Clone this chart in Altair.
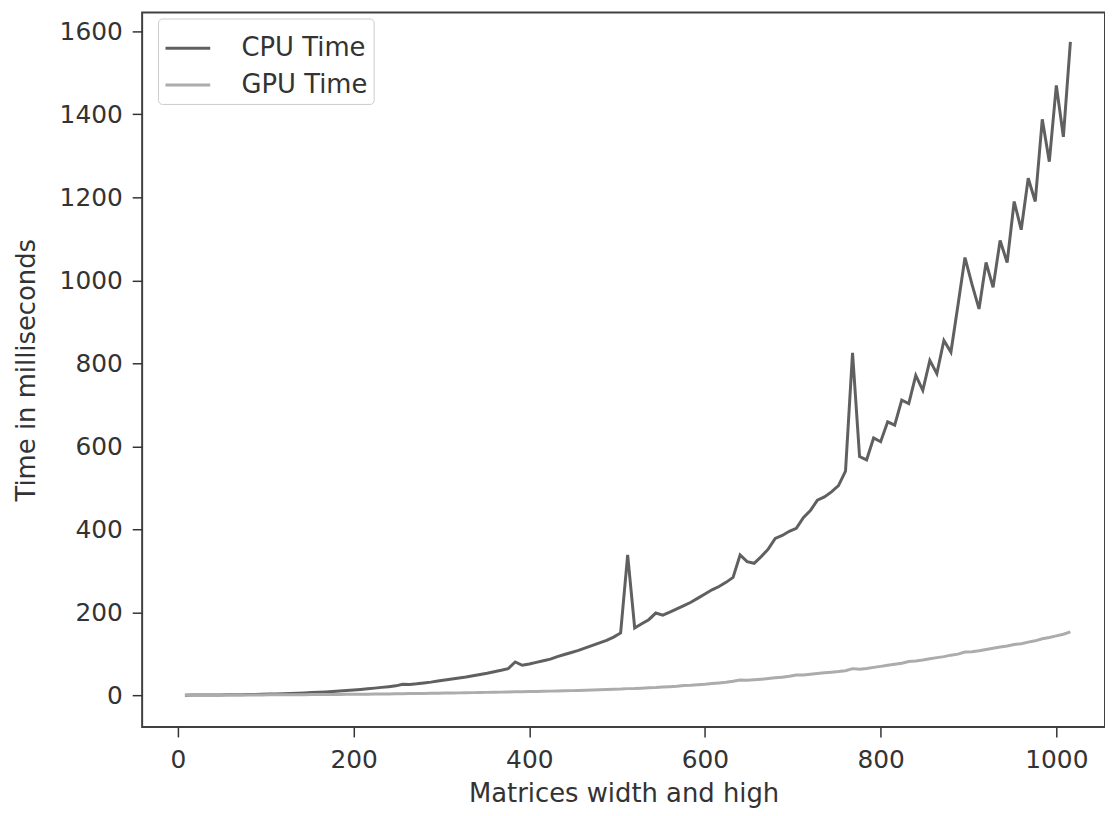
import altair as alt
import pandas as pd

sizes = list(range(8, 1017, 8))

cpu_time = [
    0.1, 0.2, 0.3, 0.4, 0.5, 0.6, 0.8, 1.0, 1.2, 1.5,
    1.8, 2.2, 2.6, 3.1, 3.6, 4.2, 4.8, 5.5, 6.3, 7.1,
    8.0, 9.0, 10.0, 11.2, 12.4, 13.8, 15.3, 17.0, 18.8, 20.6,
    22.5, 26.5, 26.0, 27.5, 29.5, 31.5, 34.0, 36.5, 39.0, 41.5,
    44.0, 47.0, 50.0, 53.0, 56.5, 60.0, 64.0, 80.0, 72.0, 75.0,
    79.0, 83.0, 87.0, 93.0, 98.0, 103.0, 108.0, 114.0, 120.0, 126.0,
    132.0, 140.0, 150.0, 338.0, 162.0, 172.0, 182.0, 198.0, 193.0, 200.0,
    208.0, 216.0, 224.0, 234.0, 244.0, 254.0, 262.0, 272.0, 284.0, 338.0,
    322.0, 318.0, 334.0, 352.0, 378.0, 385.0, 395.0, 402.0, 428.0, 445.0,
    470.0, 478.0, 490.0, 505.0, 540.0, 825.0, 575.0, 567.0, 620.0, 611.0,
    659.0, 651.0, 711.0, 703.0, 771.0, 735.0, 807.0, 775.0, 855.0, 827.0,
    940.0, 1055.0, 990.0, 931.0, 1043.0, 983.0, 1096.0, 1043.0, 1190.0, 1122.0,
    1246.0, 1190.0, 1388.0, 1286.0, 1470.0, 1346.0, 1575.0,
]

gpu_time = [
    0.3, 0.3, 0.3, 0.4, 0.4, 0.4, 0.5, 0.5, 0.6, 0.6,
    0.7, 0.7, 0.8, 0.9, 1.0, 1.1, 1.2, 1.3, 1.4, 1.5,
    1.6, 1.8, 1.9, 2.0, 2.2, 2.3, 2.5, 2.7, 2.9, 3.1,
    3.3, 3.6, 3.8, 4.0, 4.3, 4.5, 4.8, 5.0, 5.3, 5.6,
    5.9, 6.2, 6.5, 6.8, 7.1, 7.4, 7.7, 8.2, 8.4, 8.7,
    9.0, 9.4, 9.8, 10.2, 10.6, 11.0, 11.5, 12.0, 12.5, 13.0,
    13.6, 14.2, 14.8, 15.8, 16.2, 17.0, 17.8, 18.6, 19.8, 20.6,
    21.6, 23.5, 24.2, 25.4, 26.2, 28.0, 29.5, 31.0, 33.5, 36.5,
    36.0, 37.2, 38.5, 40.0, 41.8, 43.5, 45.5, 48.5, 48.8, 50.5,
    52.2, 54.0, 55.5, 57.0, 59.0, 64.0, 62.5, 64.5, 67.0, 69.5,
    72.0, 74.5, 77.0, 81.0, 82.5, 85.0, 88.0, 90.5, 93.0, 96.5,
    99.0, 104.0, 104.5, 107.0, 110.0, 113.0, 116.0, 118.5, 122.0, 124.0,
    128.0, 131.0, 136.0, 139.0, 143.0, 147.0, 152.5,
]

series_names = ["CPU Time", "GPU Time"]
series_colors = ["#606060", "#acacac"]
x_ticks = [0, 200, 400, 600, 800, 1000]
y_ticks = [0, 200, 400, 600, 800, 1000, 1200, 1400, 1600]

rows = []
for name, vals in zip(series_names, [cpu_time, gpu_time]):
    for s, v in zip(sizes, vals):
        rows.append({"size": s, "time": v, "series": name})
df = pd.DataFrame(rows)

FONT = "DejaVu Sans"
TXT = "#333333"

chart = alt.Chart(df).mark_line(strokeWidth=3).encode(
    x=alt.X(
        "size:Q",
        scale=alt.Scale(domain=[-40.7, 1055.4], nice=False, zero=False),
        axis=alt.Axis(
            title="Matrices width and high",
            values=x_ticks,
            format="d",
            grid=False,
            domain=False,
            tickSize=10,
            tickWidth=1.5,
            tickColor="#333333",
            labelPadding=11,
            labelFontSize=25,
            labelColor=TXT,
            labelFont=FONT,
            titleFont=FONT,
            titleFontSize=26,
            titleFontWeight="normal",
            titleColor=TXT,
            titlePadding=8,
        ),
    ),
    y=alt.Y(
        "time:Q",
        scale=alt.Scale(domain=[-76.6, 1645.5], nice=False, zero=False),
        axis=alt.Axis(
            title="Time in milliseconds",
            values=y_ticks,
            format="d",
            grid=False,
            domain=False,
            tickSize=10,
            tickWidth=1.5,
            tickColor="#333333",
            labelPadding=10,
            labelFontSize=25,
            labelColor=TXT,
            labelFont=FONT,
            titleFont=FONT,
            titleFontSize=26,
            titleFontWeight="normal",
            titleColor=TXT,
            titlePadding=20,
        ),
    ),
    color=alt.Color(
        "series:N",
        scale=alt.Scale(domain=series_names, range=series_colors),
        legend=alt.Legend(
            title=None,
            orient="none",
            legendX=16,
            legendY=6,
            symbolType="stroke",
            symbolSize=2025,
            symbolStrokeWidth=3,
            labelFontSize=26,
            labelFont=FONT,
            labelColor=TXT,
            labelOffset=30,
            rowPadding=-8,
            padding=6,
            fillColor="white",
            strokeColor="#cccccc",
            cornerRadius=4,
        ),
    ),
).properties(
    width=969,
    height=719,
    autosize=alt.AutoSizeParams(type="none"),
    padding={"left": 135, "top": 2, "right": 0, "bottom": 80},
    background="white",
).configure_view(
    stroke="#404040",
    strokeWidth=2,
)

chart.save("out.html", embed_options={"renderer": "svg", "actions": False})
